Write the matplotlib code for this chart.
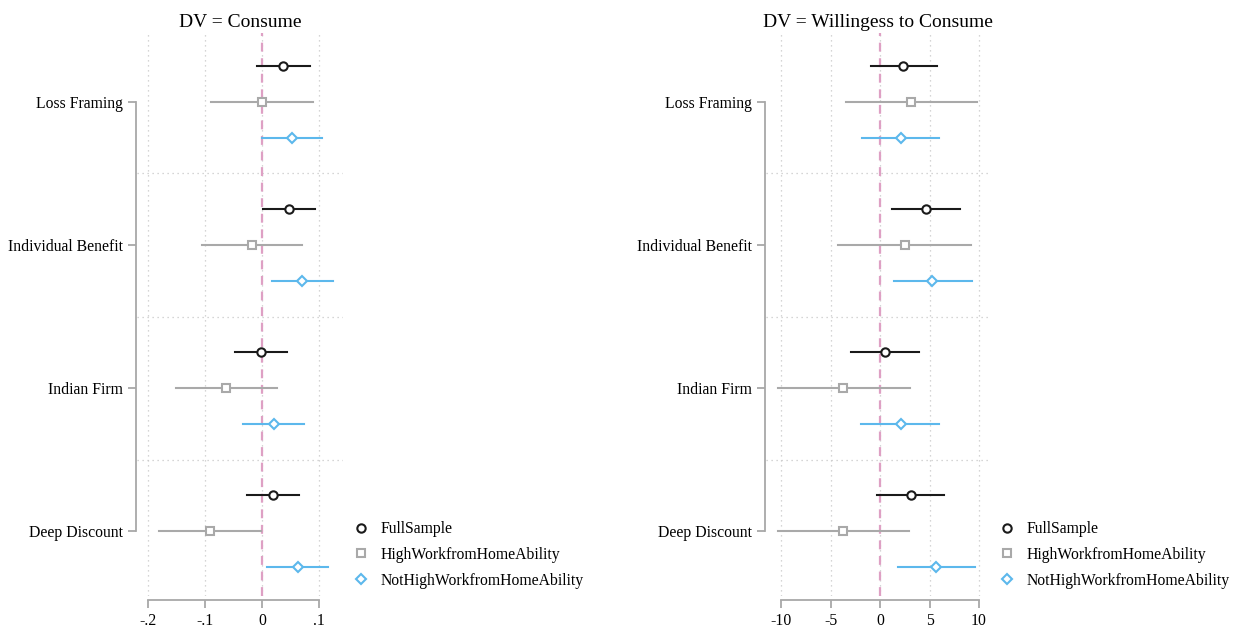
import matplotlib
matplotlib.use('Agg')
import matplotlib.pyplot as plt
from matplotlib.lines import Line2D

plt.rcParams['font.family'] = ['Liberation Serif', 'DejaVu Serif']

# treatments, top to bottom
treatments = ['Loss Framing', 'Individual Benefit', 'Indian Firm', 'Deep Discount']
samples = ['FullSample', 'HighWorkfromHomeAbility', 'NotHighWorkfromHomeAbility']

# DV = Consume : point estimate, lower and upper CI per sample
consume_full = [0.037, 0.047, -0.002, 0.020]
consume_full_lo = [-0.008, 0.002, -0.047, -0.026]
consume_full_hi = [0.084, 0.093, 0.044, 0.065]
consume_high = [0.000, -0.018, -0.063, -0.091]
consume_high_lo = [-0.089, -0.106, -0.151, -0.180]
consume_high_hi = [0.089, 0.071, 0.026, -0.002]
consume_not = [0.053, 0.071, 0.021, 0.063]
consume_not_lo = [0.000, 0.018, -0.033, 0.009]
consume_not_hi = [0.106, 0.124, 0.074, 0.115]

# DV = Willingess to Consume
wtc_full = [2.35, 4.6, 0.5, 3.1]
wtc_full_lo = [-0.9, 1.25, -2.9, -0.3]
wtc_full_hi = [5.8, 8.1, 3.9, 6.5]
wtc_high = [3.1, 2.5, -3.7, -3.7]
wtc_high_lo = [-3.45, -4.2, -10.35, -10.3]
wtc_high_hi = [9.8, 9.2, 3.0, 2.9]
wtc_not = [2.1, 5.3, 2.1, 5.7]
wtc_not_lo = [-1.8, 1.4, -1.9, 1.8]
wtc_not_hi = [6.0, 9.3, 6.0, 9.6]

consume_ticks = [-0.2, -0.1, 0, 0.1]
consume_ticklabels = ['-.2', '-.1', '0', '.1']
wtc_ticks = [-10, -5, 0, 5, 10]
wtc_ticklabels = ['-10', '-5', '0', '5', '10']

colors = ['#1a1a1a', '#a9a9a9', '#5cb8ec']
markers = ['o', 's', 'D']
msizes = [6, 6, 5.5]
offsets = [-0.252, 0, 0.252]

fig = plt.figure(figsize=(12.4, 6.35), dpi=100)
W, H = 1240, 635


def make_axes(x0, x1, y0, y1):
    return fig.add_axes([x0 / W, (H - y1) / H, (x1 - x0) / W, (y1 - y0) / H])


def draw_panel(ax, series, xlim, ticks, ticklabels, title):
    ax.set_xlim(*xlim)
    ax.set_ylim(3.4545, -0.4825)
    for t in ticks:
        ax.axvline(t, color='#c8c8c8', lw=0.9, ls=(0, (1, 3)), zorder=0)
    for sep in [0.5, 1.5, 2.5]:
        ax.axhline(sep, color='#c8c8c8', lw=0.9, ls=(0, (1, 3)), zorder=0)
    ax.axvline(0, color='#dea0c4', lw=1.6, ls=(0, (4, 3)), zorder=1)
    for k, (est, lo, hi) in enumerate(series):
        for g in range(len(treatments)):
            y = g + offsets[k]
            ax.plot([lo[g], hi[g]], [y, y], color=colors[k], lw=1.5, zorder=2)
            ax.plot(est[g], y, marker=markers[k], ms=msizes[k], mfc='white',
                    mec=colors[k], mew=1.5, ls='none', zorder=3)
    ax.set_yticks(range(len(treatments)))
    ax.set_yticklabels(treatments)
    ax.set_xticks(ticks)
    ax.set_xticklabels(ticklabels)
    for s in ['top', 'right']:
        ax.spines[s].set_visible(False)
    ax.spines['left'].set_position(('outward', 1))
    ax.spines['left'].set_bounds(0, 3)
    ax.spines['bottom'].set_position(('outward', 3))
    ax.spines['bottom'].set_bounds(ticks[0], ticks[-1])
    for s in ['left', 'bottom']:
        ax.spines[s].set_color('#a8a8a8')
        ax.spines[s].set_linewidth(1.3)
    ax.tick_params(axis='both', color='#a8a8a8', width=1.3, length=6, pad=3)
    ax.tick_params(axis='x', labelsize=11.3)
    ax.tick_params(axis='y', labelsize=11.3, pad=3)
    ax.set_title(title, fontsize=14, pad=4)


ax1 = make_axes(137, 343, 33, 596)
draw_panel(ax1,
           [(consume_full, consume_full_lo, consume_full_hi),
            (consume_high, consume_high_lo, consume_high_hi),
            (consume_not, consume_not_lo, consume_not_hi)],
           ((137 - 262) / 570, (343 - 262) / 570),
           consume_ticks, consume_ticklabels, 'DV = Consume')

ax2 = make_axes(766, 990, 33, 596)
draw_panel(ax2,
           [(wtc_full, wtc_full_lo, wtc_full_hi),
            (wtc_high, wtc_high_lo, wtc_high_hi),
            (wtc_not, wtc_not_lo, wtc_not_hi)],
           ((766 - 880) / 9.9, (990 - 880) / 9.9),
           wtc_ticks, wtc_ticklabels, 'DV = Willingess to Consume')

handles = [Line2D([], [], marker=markers[k], ms=msizes[k], mfc='white',
                  mec=colors[k], mew=1.5, ls='none') for k in range(3)]
for lx in [352, 998]:
    fig.legend(handles, samples, loc='upper left',
               bbox_to_anchor=(lx / W, (H - 521) / H), frameon=False,
               fontsize=11.3, handlelength=1.2, handletextpad=0.6,
               labelspacing=0.63, borderpad=0, borderaxespad=0)

fig.savefig('out.png', dpi=100)
